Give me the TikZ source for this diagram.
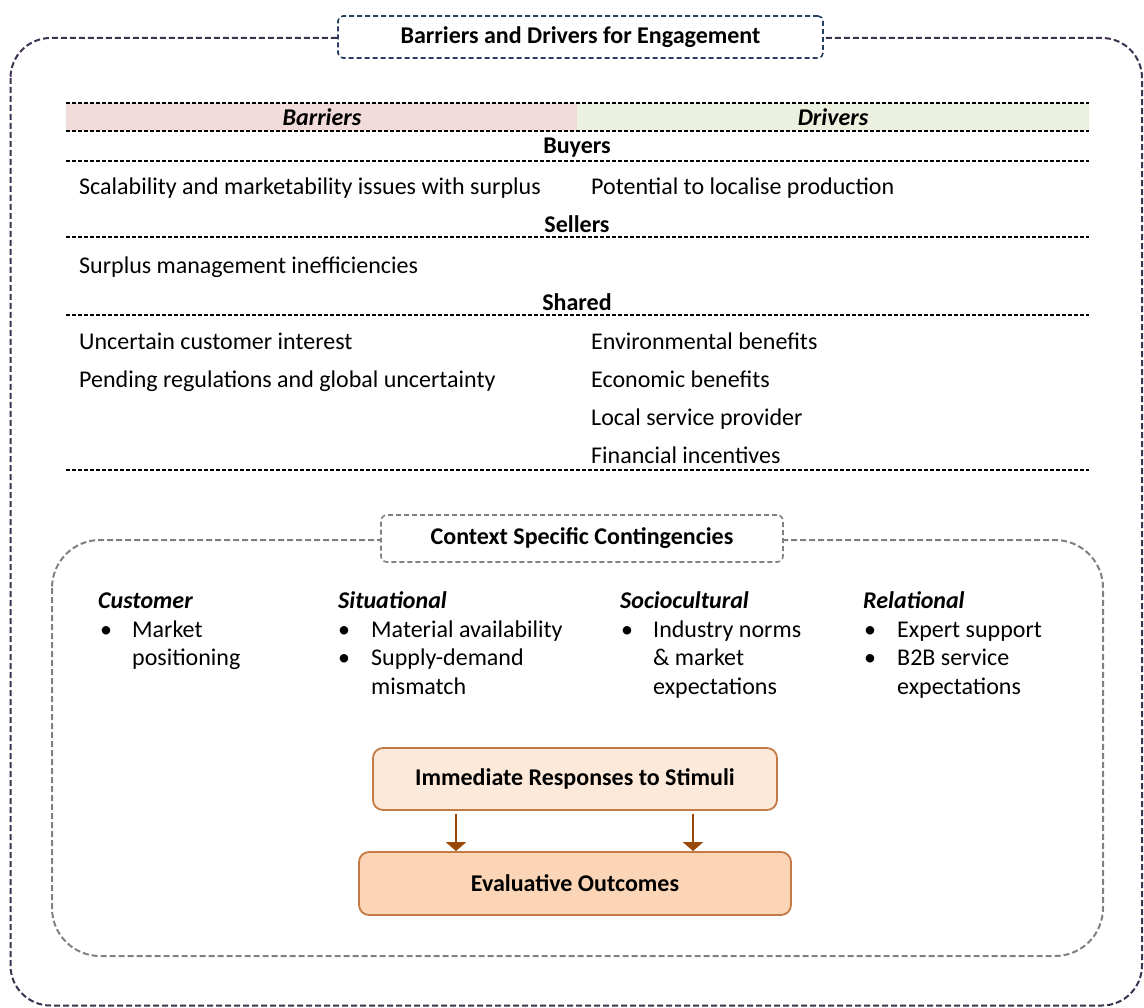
\documentclass[tikz,border=0pt]{standalone}
\usepackage{fontspec}
\setmainfont{Carlito}
\usetikzlibrary{arrows.meta}
\definecolor{framecol}{HTML}{3F3151}
\definecolor{titlecol}{HTML}{243F60}
\definecolor{ctxcol}{HTML}{808080}
\definecolor{barrierfill}{HTML}{F2DCDB}
\definecolor{driverfill}{HTML}{EBF1DE}
\definecolor{boxline}{HTML}{C47A45}
\definecolor{respfill}{HTML}{FDE9D9}
\definecolor{evalfill}{HTML}{FBD5B5}
\definecolor{arrowcol}{HTML}{984807}
\begin{document}
\begin{tikzpicture}[x=1pt,y=-1pt,
  font=\fontsize{24}{28}\selectfont,
  frameline/.style={draw=framecol, line width=2pt, dash pattern=on 6pt off 3pt, rounded corners=40pt},
  ctxline/.style={draw=ctxcol, line width=2pt, dash pattern=on 6pt off 3pt, rounded corners=48pt},
  titlebox/.style={draw=titlecol, fill=white, line width=1.6pt, dash pattern=on 5pt off 3pt, rounded corners=5pt, inner sep=0pt, font=\fontsize{24}{28}\selectfont\bfseries},
  ctxtitle/.style={draw=ctxcol, fill=white, line width=1.6pt, dash pattern=on 5pt off 3pt, rounded corners=6pt, inner sep=0pt, font=\fontsize{24}{28}\selectfont\bfseries},
  rule/.style={draw=black, line width=1.1pt, dash pattern=on 4pt off 2pt},
  txt/.style={anchor=base west, inner sep=0pt},
  head/.style={anchor=base, inner sep=0pt, font=\fontsize{24}{28}\selectfont\bfseries},
  colhead/.style={anchor=base west, inner sep=0pt, font=\fontsize{24}{28}\selectfont\bfseries\itshape},
  sidehead/.style={anchor=base, inner sep=0pt, font=\fontsize{24}{28}\selectfont\bfseries\itshape},
  flowbox/.style={draw=boxline, line width=1.8pt, rounded corners=10pt, inner sep=0pt, font=\fontsize{24}{28}\selectfont\bfseries},
  arr/.style={draw=arrowcol, line width=2pt, -{Triangle[width=20pt,length=9pt]}}
]
\useasboundingbox (0,0) rectangle (1144,1008);

% outer frame with its title
\draw[frameline] (10.5,38) rectangle (1142,1005.5);
\node[titlebox, minimum width=485pt, minimum height=42pt] (title) at (580.5,37) {Barriers and Drivers for Engagement};

% table header fills
\fill[barrierfill] (66,103) rectangle (577,131);
\fill[driverfill] (577,103) rectangle (1089,131);
\node[sidehead] (hbar) at (322,125.5) {Barriers};
\node[sidehead] (hdrv) at (833,125.5) {Drivers};

% table rules
\foreach \yy in {103,131,161,237,315,470}
  \draw[rule] (66,\yy) -- (1089,\yy);

% group headings
\node[head] (buyers) at (577,154) {Buyers};
\node[head] (sellers) at (577,232.5) {Sellers};
\node[head] (shared) at (577,310.5) {Shared};

% barriers column
\node[txt] (b1) at (79,195) {Scalability and marketability issues with surplus};
\node[txt] (b2) at (79,273.5) {Surplus management inefficiencies};
\node[txt] (b3) at (79,349.5) {Uncertain customer interest};
\node[txt] (b4) at (79,387.5) {Pending regulations and global uncertainty};

% drivers column
\node[txt] (d1) at (591,195) {Potential to localise production};
\node[txt] (d2) at (591,349.5) {Environmental benefits};
\node[txt] (d3) at (591,387.5) {Economic benefits};
\node[txt] (d4) at (591,425.5) {Local service provider};
\node[txt] (d5) at (591,463.5) {Financial incentives};

% context frame with its title
\draw[ctxline] (52,540) rectangle (1103,956);
\node[ctxtitle, minimum width=402pt, minimum height=47pt] (ctx) at (582,538.5) {Context Specific Contingencies};

% contingency columns
\node[colhead] (c1) at (98,608) {Customer};
\node[txt] (c1a) at (100,637) {•};
\node[txt] (c1b) at (132,637) {Market};
\node[txt] (c1c) at (132,665.5) {positioning};

\node[colhead] (c2) at (338,608) {Situational};
\node[txt] (c2a) at (338,637) {•};
\node[txt] (c2b) at (371,637) {Material availability};
\node[txt] (c2c) at (338,665.5) {•};
\node[txt] (c2d) at (371,665.5) {Supply-demand};
\node[txt] (c2e) at (371,694) {mismatch};

\node[colhead] (c3) at (620,608) {Sociocultural};
\node[txt] (c3a) at (621,637) {•};
\node[txt] (c3b) at (653,637) {Industry norms};
\node[txt] (c3c) at (653,665.5) {\& market};
\node[txt] (c3d) at (653,694) {expectations};

\node[colhead] (c4) at (863,608) {Relational};
\node[txt] (c4a) at (864,637) {•};
\node[txt] (c4b) at (897,637) {Expert support};
\node[txt] (c4c) at (864,665.5) {•};
\node[txt] (c4d) at (897,665.5) {B2B service};
\node[txt] (c4e) at (897,694) {expectations};

% response flow
\node[flowbox, fill=respfill, minimum width=404pt, minimum height=62pt] (imm) at (575,779) {Immediate Responses to Stimuli};
\node[flowbox, fill=evalfill, minimum width=432pt, minimum height=63pt] (eval) at (575,883.5) {Evaluative Outcomes};
\coordinate (a1) at (456,0);
\coordinate (a2) at (693,0);
\draw[arr, shorten <=3pt] (imm.south -| a1) -- (eval.north -| a1);
\draw[arr, shorten <=3pt] (imm.south -| a2) -- (eval.north -| a2);
\end{tikzpicture}
\end{document}
